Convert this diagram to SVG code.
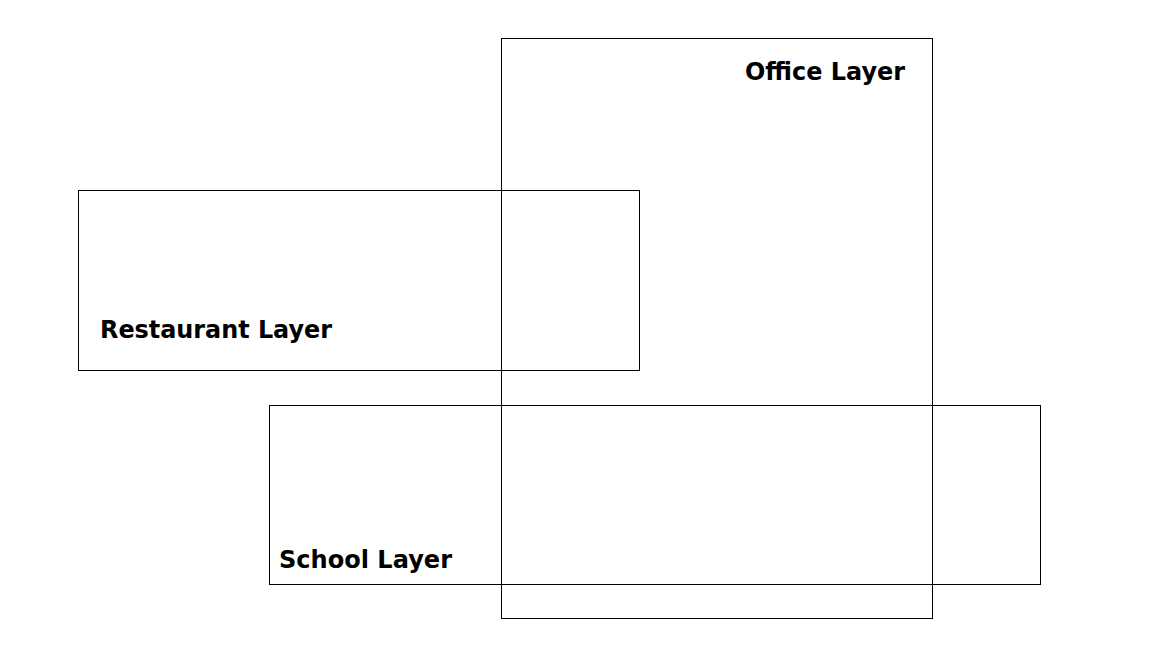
<svg xmlns="http://www.w3.org/2000/svg" width="1152" height="648" viewBox="0 0 1152 648">
  <style>
    .layer { fill: none; stroke: #000000; stroke-width: 1; }
    .label { font-family: "DejaVu Sans", Verdana, sans-serif; font-weight: bold; font-size: 24px; fill: #000000; }
  </style>
  <rect x="0" y="0" width="1152" height="648" fill="#ffffff"/>
  <g id="office-layer">
    <rect class="layer" x="501.5" y="38.5" width="431" height="580"/>
    <text class="label" x="745" y="80" textLength="160" lengthAdjust="spacingAndGlyphs">Office Layer</text>
  </g>
  <g id="restaurant-layer">
    <rect class="layer" x="78.5" y="190.5" width="561" height="180"/>
    <text class="label" x="100" y="338" textLength="232" lengthAdjust="spacingAndGlyphs">Restaurant Layer</text>
  </g>
  <g id="school-layer">
    <rect class="layer" x="269.5" y="405.5" width="771" height="179"/>
    <text class="label" x="279" y="568" textLength="173" lengthAdjust="spacingAndGlyphs">School Layer</text>
  </g>
  <g id="connectors"></g>
</svg>
